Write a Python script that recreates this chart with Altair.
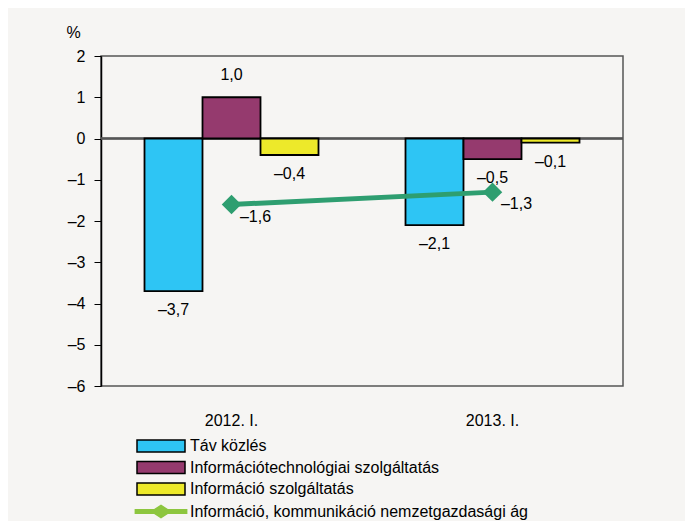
import altair as alt
import pandas as pd

# ---- data ----
periods = ["2012. I.", "2013. I."]
series = ["Táv közlés", "Információtechnológiai szolgáltatás", "Információ szolgáltatás"]
tav_kozles = [-3.7, -2.1]
it_szolg = [1.0, -0.5]
info_szolg = [-0.4, -0.1]
total_name = "Információ, kommunikáció nemzetgazdasági ág"
total_values = [-1.6, -1.3]
y_ticks = [-6, -5, -4, -3, -2, -1, 0, 1, 2]

bar_colors = ["#2EC5F4", "#953A6E", "#EDE92A"]
legend_line_color = "#8DC63F"
line_color = "#2E9E70"
FONT = "Liberation Sans"

bars = pd.DataFrame(
    [
        {"period": p, "series": s, "value": v}
        for s, vals in zip(series, [tav_kozles, it_szolg, info_szolg])
        for p, v in zip(periods, vals)
    ]
)
line = pd.DataFrame({"period": periods, "series": total_name, "value": total_values})

label_expr = "(datum.value < 0 ? '–' : '') + replace(format(abs(datum.value), '.1f'), '.', ',')"

x_enc = alt.X(
    "period:N",
    sort=periods,
    scale=alt.Scale(paddingInner=1 / 3, paddingOuter=1 / 6),
    axis=alt.Axis(
        title=None, labelAngle=0, ticks=False, domain=False, grid=False,
        labelPadding=26, labelFontSize=16, labelFont=FONT, labelColor="#000",
    ),
)
y_scale = alt.Scale(domain=[-6, 2], nice=False, zero=False)

RECT_PATH = "M-4,-1H4V1H-4Z"
LINE_PATH = "M-4.4,-0.4H-1.15L0,-1.15L1.15,-0.4H4.4V0.4H1.15L0,1.15L-1.15,0.4H-4.4Z"
is_line = f"datum.value === '{total_name}'"

legend = alt.Legend(
    title=None,
    orient="none",
    legendX=52,
    legendY=382,
    padding=0,
    symbolSize=144,
    rowPadding=3.5,
    labelOffset=21,
    labelFontSize=16,
    labelFont=FONT,
    labelColor="#000",
    labelLimit=0,
    symbolOpacity=1,
    symbolType={"expr": f"{is_line} ? '{LINE_PATH}' : '{RECT_PATH}'"},
    symbolStrokeColor={"expr": f"{is_line} ? 'transparent' : '#000'"},
    symbolStrokeWidth=1.5,
)

bar_layer = alt.Chart(bars).mark_bar(stroke="#000", strokeWidth=1.8).encode(
    x=x_enc,
    xOffset=alt.XOffset("series:N", sort=series, scale=alt.Scale(domain=series, paddingInner=0, paddingOuter=0)),
    y=alt.Y(
        "value:Q",
        scale=y_scale,
        axis=alt.Axis(
            values=y_ticks,
            title="%",
            titleAngle=0,
            titleX=-28,
            titleY=-24,
            titleAlign="center",
            titleBaseline="middle",
            titleFont=FONT,
            titleFontSize=16,
            titleFontWeight="normal",
            titleColor="#000",
            labelFont=FONT,
            labelFontSize=16,
            labelColor="#000",
            labelPadding=9,
            labelExpr="datum.value < 0 ? '–' + abs(datum.value) : '' + datum.value",
            tickSize=7,
            tickColor="#000",
            domainColor="#000",
            domainWidth=1.5,
            gridColor="#A8A8A8",
            gridWidth=1.3,
        ),
    ),
    color=alt.Color(
        "series:N",
        scale=alt.Scale(domain=series + [total_name], range=bar_colors + [legend_line_color]),
        legend=legend,
    ),
)

bar_text_pos = alt.Chart(bars).transform_filter("datum.value >= 0").transform_calculate(
    label=label_expr
).mark_text(dy=-22, baseline="middle", fontSize=16, font=FONT, color="#000").encode(
    x=alt.X("period:N", sort=periods),
    xOffset=alt.XOffset("series:N", sort=series),
    y=alt.Y("value:Q"),
    text="label:N",
)

bar_text_neg = alt.Chart(bars).transform_filter("datum.value < 0").transform_calculate(
    label=label_expr
).mark_text(dy=19, baseline="middle", fontSize=16, font=FONT, color="#000").encode(
    x=alt.X("period:N", sort=periods),
    xOffset=alt.XOffset("series:N", sort=series),
    y=alt.Y("value:Q"),
    text="label:N",
)

zero_rule = alt.Chart(bars).mark_rule(color="#555", strokeWidth=1.5).encode(y=alt.datum(0))

line_layer = alt.Chart(line).mark_line(color=line_color, strokeWidth=5).encode(
    x=alt.X("period:N", sort=periods),
    y=alt.Y("value:Q"),
)
point_layer = alt.Chart(line).mark_point(
    shape="diamond", filled=True, size=380, color=line_color, opacity=1
).encode(
    x=alt.X("period:N", sort=periods),
    y=alt.Y("value:Q"),
)
line_text = alt.Chart(line).transform_calculate(label=label_expr).mark_text(
    dx=24, dy=12, baseline="middle", fontSize=16, font=FONT, color="#000"
).encode(
    x=alt.X("period:N", sort=periods),
    y=alt.Y("value:Q"),
    text="label:N",
)

chart = (
    alt.layer(zero_rule, bar_layer, bar_text_pos, bar_text_neg, line_layer, point_layer, line_text)
    .properties(
        width=522,
        height=330,
        autosize=alt.AutoSizeParams(type="none"),
        padding={"left": 93, "top": 48, "right": 62, "bottom": 135},
        background="#F6F5F3",
    )
    .configure_view(stroke="#555", strokeWidth=1.5)
)

chart.save("out.html", embed_options={"renderer": "svg", "actions": False})
